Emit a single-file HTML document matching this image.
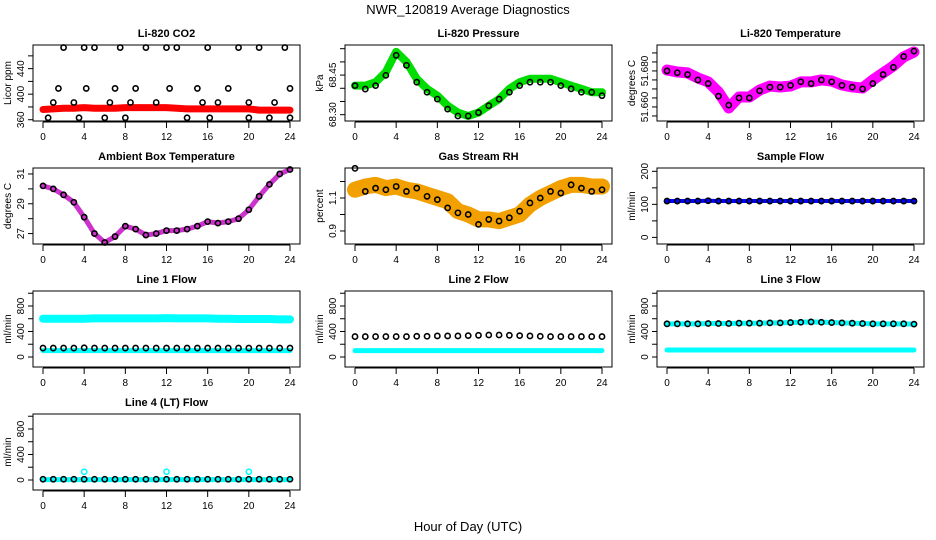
<!DOCTYPE html>
<html><head><meta charset="utf-8"><style>
body{margin:0;background:#fff}
svg{display:block;font-family:"Liberation Sans",sans-serif}
</style></head><body>
<svg id="c" width="936" height="540" viewBox="0 0 936 540" xmlns="http://www.w3.org/2000/svg">
<text x="468" y="14" font-size="13" text-anchor="middle">NWR_120819  Average Diagnostics</text>
<text x="468" y="531" font-size="13" text-anchor="middle">Hour of Day (UTC)</text>
</svg>
<script>
const hours=[0,1,2,3,4,5,6,7,8,9,10,11,12,13,14,15,16,17,18,19,20,21,22,23,24];
const xTicks=[0,4,8,12,16,20,24];
const co2Red=[376,377,378,378,379,378,378,378,379,379,379,379,379,378,377,377,377,377,377,377,377,375,375,375,375];
const co2Black=[[0.5,363],[1,387],[1.5,409],[2,473],[3,387],[3.5,363],[4,473],[4.2,409],[5,473],[6,363],[6.5,387],[7,409],[7.5,473],[8,363],[8.5,387],[9,409],[10,473],[11,387],[12,473],[12.3,409],[13,473],[14,363],[15,409],[15.5,387],[16,473],[16.2,363],[17,387],[18,409],[19,473],[20,387],[20,363],[21,473],[22,363],[22.5,387],[23.5,473],[24,409],[24,363]];
const presGreen=[68.410,68.410,68.423,68.462,68.538,68.500,68.436,68.398,68.372,68.334,68.308,68.295,68.308,68.334,68.359,68.398,68.423,68.436,68.436,68.436,68.423,68.410,68.398,68.385,68.385];
const presBlack=[68.410,68.397,68.410,68.449,68.525,68.487,68.423,68.385,68.359,68.321,68.295,68.295,68.308,68.334,68.359,68.385,68.410,68.423,68.423,68.423,68.410,68.398,68.385,68.385,68.372];
const tempMag=[51.6805,51.6794,51.6789,51.6761,51.6739,51.6683,51.6594,51.6655,51.6655,51.6694,51.6716,51.6711,51.6716,51.6739,51.6739,51.6750,51.6744,51.6722,51.6711,51.6705,51.6750,51.6789,51.6828,51.6878,51.6905];
const tempBlack=[51.680,51.679,51.678,51.675,51.673,51.666,51.661,51.665,51.665,51.669,51.671,51.671,51.672,51.674,51.673,51.675,51.674,51.672,51.671,51.670,51.673,51.678,51.682,51.688,51.691];
const ambMag=[30.2,30.0,29.6,29.1,28.1,27.0,26.4,26.8,27.5,27.3,26.9,27.0,27.2,27.2,27.3,27.5,27.8,27.7,27.8,28.0,28.6,29.5,30.3,31.0,31.3];
const rhOrange=[1.15,1.17,1.18,1.16,1.17,1.15,1.14,1.12,1.10,1.08,1.02,1.00,0.97,0.97,0.96,0.98,1.00,1.06,1.10,1.13,1.16,1.18,1.18,1.17,1.17];
const rhBlack=[1.28,1.14,1.16,1.15,1.17,1.14,1.16,1.11,1.09,1.04,1.01,1.00,0.94,0.97,0.96,0.98,1.02,1.07,1.10,1.14,1.13,1.18,1.16,1.14,1.15];
const sampBlue=[110,110,110,110,111,110,110,110,110,110,110,110,110,110,110,110,110,110,110,110,110,110,110,110,110];
const l1CyanHi=[600,600,600,600,600,605,605,605,605,605,605,605,610,605,605,605,605,600,600,595,595,595,595,590,590];
const l1CyanLo=[100,100,100,100,100,100,100,100,100,100,100,100,100,100,100,100,100,100,100,100,100,100,100,100,100];
const l1Black=[140,140,140,140,145,140,140,140,140,140,140,140,140,140,140,140,140,140,140,140,140,140,140,140,140];
const l2Cyan=[100,100,100,100,100,100,100,100,100,100,100,100,100,100,100,100,100,100,100,100,100,100,100,100,100];
const l2Black=[320,320,320,320,320,320,325,325,330,330,330,335,340,345,345,340,335,330,325,320,320,320,320,320,320];
const l3CyanLo=[110,110,110,110,110,110,110,110,110,110,110,110,110,110,110,110,110,110,110,110,110,110,110,110,110];
const l3Black=[520,520,520,520,525,525,525,530,530,530,535,535,540,545,550,545,540,535,530,525,520,520,520,520,515];
const l4Cyan=[5,5,5,5,5,5,5,5,5,5,5,5,5,5,5,5,5,5,5,5,5,5,5,5,5];
const l4Black=[12,12,12,12,12,12,12,12,12,12,12,12,12,12,12,12,12,12,12,12,12,12,12,12,12];
const l4Spikes=[[4,130],[12,130],[20,130]];

const svg=document.getElementById('c');
const NS='http://www.w3.org/2000/svg';
function mk(tag,attrs,parent){const e=document.createElementNS(NS,tag);for(const k in attrs)e.setAttribute(k,attrs[k]);(parent||svg).appendChild(e);return e;}

const panels=[
 {id:'co2',title:'Li-820 CO2',ylab:'Licor ppm',c:0,r:0,ymin:358,ymax:477,ticks:[360,380,400,420,440,460],labels:{360:'360',400:'400',440:'440'},
  lines:[{v:co2Red,col:'#ff0000',w:7}],black:[],pts:co2Black},
 {id:'pressure',title:'Li-820 Pressure',ylab:'kPa',c:1,r:0,ymin:68.276,ymax:68.564,ticks:[68.30,68.35,68.40,68.45,68.50,68.55],labels:{'68.3':'68.30','68.45':'68.45'},
  lines:[{v:presGreen,col:'#00dd00',w:8}],black:presBlack},
 {id:'temperature',title:'Li-820 Temperature',ylab:'degrees C',c:2,r:0,ymin:51.6522,ymax:51.6944,ticks:[51.655,51.66,51.665,51.67,51.675,51.68,51.685,51.69],labels:{'51.66':'51.660','51.68':'51.680'},
  lines:[{v:tempMag,col:'#ff00ff',w:11}],black:tempBlack},
 {id:'ambient-temp',title:'Ambient Box Temperature',ylab:'degrees C',c:0,r:1,ymin:26.3,ymax:31.4,ticks:[27,28,29,30,31],labels:{27:'27',29:'29',31:'31'},
  lines:[{v:ambMag,col:'#cc33cc',w:5}],black:ambMag},
 {id:'gas-rh',title:'Gas Stream RH',ylab:'percent',c:1,r:1,ymin:0.821,ymax:1.282,ticks:[0.9,1.0,1.1,1.2],labels:{'0.9':'0.9','1.1':'1.1'},
  lines:[{v:rhOrange,col:'#f2a000',w:16}],black:rhBlack},
 {id:'sample-flow',title:'Sample Flow',ylab:'ml/min',c:2,r:1,ymin:-20,ymax:210,ticks:[0,50,100,150,200],labels:{0:'0',100:'100',200:'200'},
  lines:[{v:sampBlue,col:'#0000ff',w:4}],black:sampBlue},
 {id:'line1-flow',title:'Line 1 Flow',ylab:'ml/min',c:0,r:2,ymin:-157,ymax:1035,ticks:[0,200,400,600,800,1000],labels:{0:'0',400:'400',800:'800'},
  lines:[{v:l1CyanHi,col:'#00ffff',w:8},{v:l1CyanLo,col:'#00ffff',w:5}],black:l1Black},
 {id:'line2-flow',title:'Line 2 Flow',ylab:'ml/min',c:1,r:2,ymin:-157,ymax:1035,ticks:[0,200,400,600,800,1000],labels:{0:'0',400:'400',800:'800'},
  lines:[{v:l2Cyan,col:'#00ffff',w:5}],black:l2Black},
 {id:'line3-flow',title:'Line 3 Flow',ylab:'ml/min',c:2,r:2,ymin:-157,ymax:1035,ticks:[0,200,400,600,800,1000],labels:{0:'0',400:'400',800:'800'},
  lines:[{v:l3CyanLo,col:'#00ffff',w:5},{v:l3Black,col:'#00ffff',w:5}],black:l3Black},
 {id:'line4-flow',title:'Line 4 (LT) Flow',ylab:'ml/min',c:0,r:3,ymin:-157,ymax:1035,ticks:[0,200,400,600,800,1000],labels:{0:'0',400:'400',800:'800'},
  lines:[{v:l4Cyan,col:'#00ffff',w:5}],black:l4Black,cpts:l4Spikes}
];

panels.forEach(p=>{
  const L=33+p.c*312, T=45+p.r*123, W=267, H=76;
  const g=mk('g',{});
  
  
  const xs=h=>L+10+h/24*247;
  const ys=v=>T+H-(v-p.ymin)/(p.ymax-p.ymin)*H;
  const t=mk('text',{x:L+W/2,y:T-8,'font-size':11,'font-weight':'bold','text-anchor':'middle'},g);
  t.textContent=p.title;
  
  
  p.lines.forEach(s=>{
    const pl=mk('polyline',{points:s.v.map((v,i)=>xs(hours[i])+','+ys(v)).join(' '),fill:'none',stroke:s.col,'stroke-width':s.w,'stroke-linejoin':'round','stroke-linecap':'round'},g);
    
    
  });
  if(p.cpts)p.cpts.forEach(q=>{const c=mk('circle',{cx:xs(q[0]),cy:ys(q[1]),r:2.6,fill:'none',stroke:'#00ffff','stroke-width':1.5},g);
    
    });
  const bp=[];
  p.black.forEach((v,i)=>bp.push([hours[i],v]));
  if(p.pts)p.pts.forEach(q=>bp.push(q));
  bp.forEach(q=>{const c=mk('circle',{cx:xs(q[0]),cy:ys(q[1]),r:2.6,fill:'none',stroke:'#000','stroke-width':1.6},g);
    
    });
  const box=mk('rect',{x:L,y:T,width:W,height:H,fill:'none',stroke:'#000','stroke-width':1},g);
  
  
  xTicks.forEach(h=>{
    mk('line',{x1:xs(h),x2:xs(h),y1:T+H+1,y2:T+H+7,stroke:'#000'},g);
    const tl=mk('text',{x:xs(h),y:T+H+19,'font-size':10,'text-anchor':'middle'},g);
    tl.textContent=h;
    
    
  });
  mk('line',{x1:xs(0),x2:xs(24),y1:T+H+1,y2:T+H+1,stroke:'#000'},g);
  p.ticks.forEach(v=>{
    const y=ys(v);
    mk('line',{x1:L-5,x2:L,y1:y,y2:y,stroke:'#000'},g);
    const key=String(+v.toFixed(4));
    if(p.labels[key]!==undefined){
      const tl=mk('text',{x:L-9,y:y,'font-size':10,'text-anchor':'middle',transform:`rotate(-90 ${L-9} ${y})`},g);
      tl.textContent=p.labels[key];
      
      
    }
  });
  const yl=mk('text',{x:L-22,y:T+H/2,'font-size':10,'text-anchor':'middle',transform:`rotate(-90 ${L-22} ${T+H/2})`},g);
  yl.textContent=p.ylab;
  
  
});
</script>
</body></html>
